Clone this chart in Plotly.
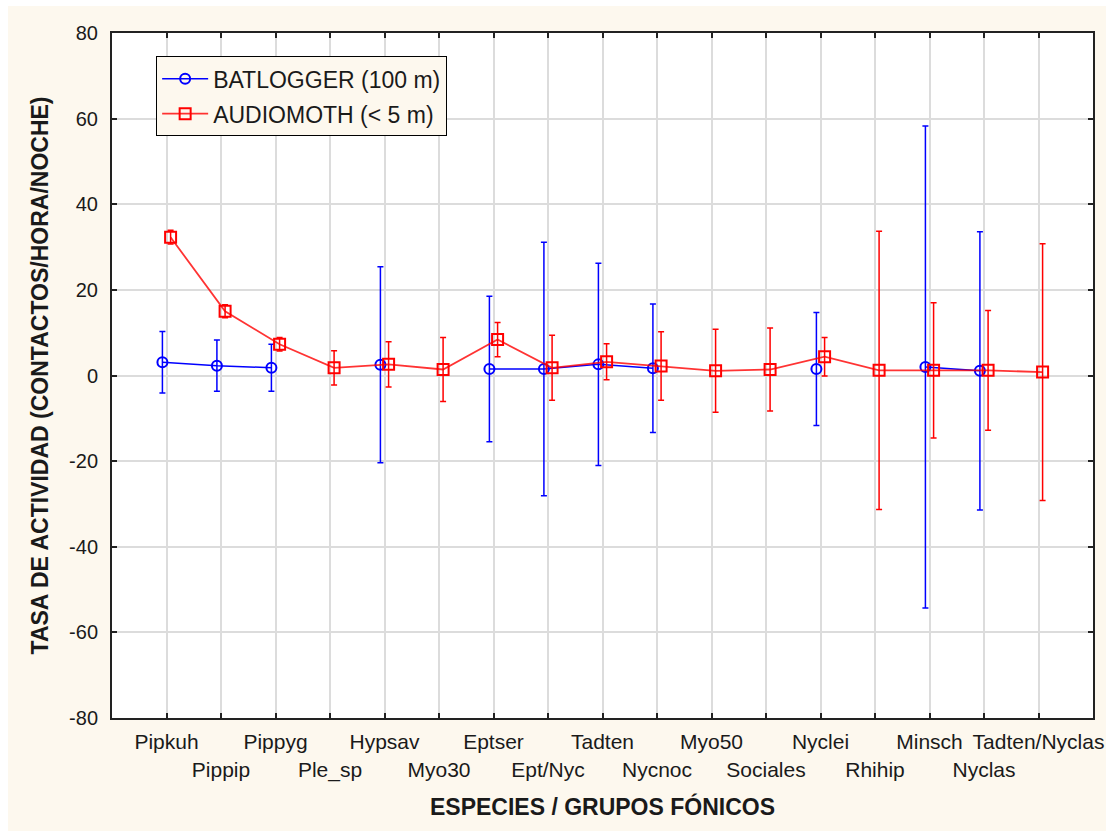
import plotly.graph_objects as go

categories = ["Pipkuh", "Pippip", "Pippyg", "Ple_sp", "Hypsav", "Myo30", "Eptser", "Ept/Nyc",
              "Tadten", "Nycnoc", "Myo50", "Sociales", "Nyclei", "Rhihip", "Minsch", "Nyclas",
              "Tadten/Nyclas"]

batlogger_mean = [3.1, 2.3, 1.8, None, 2.5, None, 1.5, 1.5, 2.6, 1.7, None, None, 1.5, None, 2.0, 1.1, None]
batlogger_err = [7.2, 6.0, 5.5, None, 22.9, None, 17.0, 29.6, 23.6, 15.0, None, None, 13.2, None, 56.3, 32.5, None]

audiomoth_mean = [32.3, 15.0, 7.3, 1.8, 2.6, 1.4, 8.4, 1.8, 3.2, 2.2, 1.1, 1.4, 4.4, 1.2, 1.2, 1.2, 0.8]
audiomoth_err = [1.6, 1.5, 1.6, 4.0, 5.3, 7.5, 4.0, 7.6, 4.2, 8.0, 9.7, 9.7, 4.5, 32.5, 15.8, 14.0, 30.0]

y_ticks = [-80, -60, -40, -20, 0, 20, 40, 60, 80]
y_tick_text = ["-80", "-60", "-40", "-20", "0", "20", "40", "60", "80"]

OFFSET = 0.075
idx = list(range(len(categories)))
x_blue = [i - OFFSET for i in idx]
x_red = [i + OFFSET for i in idx]
tick_text = [c if i % 2 == 0 else "<br>" + c for i, c in enumerate(categories)]

FONT = "Liberation Sans, Arial, sans-serif"
CREAM = "#fdf8ee"
TXT = "#1a1a1a"

# plot area geometry in px (for white outer strips only)
PL, PT, PW, PH = 112, 33, 981, 685

fig = go.Figure()
fig.add_trace(go.Scatter(
    x=x_blue, y=batlogger_mean, name="BATLOGGER (100 m)", mode="lines+markers",
    connectgaps=False, legendgroup="a",
    line=dict(color="#0000ff", width=1.5),
    marker=dict(symbol="circle-open", size=10, color="#0000ff", line=dict(width=2)),
    error_y=dict(type="data", array=batlogger_err, visible=True, color="#0000ff", thickness=1.5, width=3),
))
fig.add_trace(go.Scatter(
    x=x_red, y=audiomoth_mean, name="AUDIOMOTH (< 5 m)", mode="lines+markers",
    legendgroup="b",
    line=dict(color="rgba(255,0,0,0.8)", width=1.8),
    marker=dict(symbol="square-open", size=11, color="#ff0000", line=dict(width=2)),
    error_y=dict(type="data", array=audiomoth_err, visible=True, color="#ff0000", thickness=1.5, width=3),
))

fig.update_layout(
    width=1106, height=831,
    margin=dict(l=PL, r=1106 - PL - PW, t=PT, b=831 - PT - PH, autoexpand=False),
    paper_bgcolor=CREAM,
    plot_bgcolor="white",
    font=dict(family=FONT, size=20, color=TXT),
    showlegend=True,
    legend=dict(
        x=0.045, y=0.966, xanchor="left", yanchor="top",
        bgcolor=CREAM, bordercolor="black", borderwidth=1,
        font=dict(family=FONT, size=23, color=TXT),
        traceorder="grouped", tracegroupgap=2, itemwidth=46,
    ),
    shapes=[
        dict(type="rect", xref="paper", yref="paper",
             x0=-PL / PW, x1=(8 - PL) / PW, y0=-(831 - PT - PH) / PH, y1=(PH + PT) / PH,
             fillcolor="white", line=dict(width=0), layer="below"),
        dict(type="rect", xref="paper", yref="paper",
             x0=-PL / PW, x1=(1106 - PL) / PW, y0=(PH + PT - 6) / PH, y1=(PH + PT) / PH,
             fillcolor="white", line=dict(width=0), layer="below"),
    ],
)

fig.update_xaxes(
    range=[-1, len(categories)], tickmode="array", tickvals=idx, ticktext=tick_text,
    tickfont=dict(family=FONT, size=21, color=TXT), automargin=False,
    showgrid=True, gridcolor="#dcdcdc", gridwidth=1.5,
    showline=True, linecolor="#222222", linewidth=2, mirror="allticks",
    ticks="inside", ticklen=5, tickcolor="#222222", tickwidth=1.5,
    zeroline=False, tickangle=0, ticklabelstandoff=4,
    title=dict(text="<b>ESPECIES / GRUPOS FÓNICOS</b>", font=dict(family=FONT, size=23, color=TXT), standoff=18),
)
fig.update_yaxes(
    range=[-80, 80], tickmode="array", tickvals=y_ticks, ticktext=y_tick_text,
    tickfont=dict(family=FONT, size=20, color=TXT), automargin=False,
    showgrid=True, gridcolor="#dcdcdc", gridwidth=1.5,
    showline=True, linecolor="#222222", linewidth=2, mirror="allticks",
    ticks="inside", ticklen=5, tickcolor="#222222", tickwidth=1.5,
    zeroline=False, ticklabelstandoff=8,
    title=dict(text="<b>TASA DE ACTIVIDAD (CONTACTOS/HORA/NOCHE)</b>", font=dict(family=FONT, size=23, color=TXT), standoff=14),
)

fig.write_html("out.html")
